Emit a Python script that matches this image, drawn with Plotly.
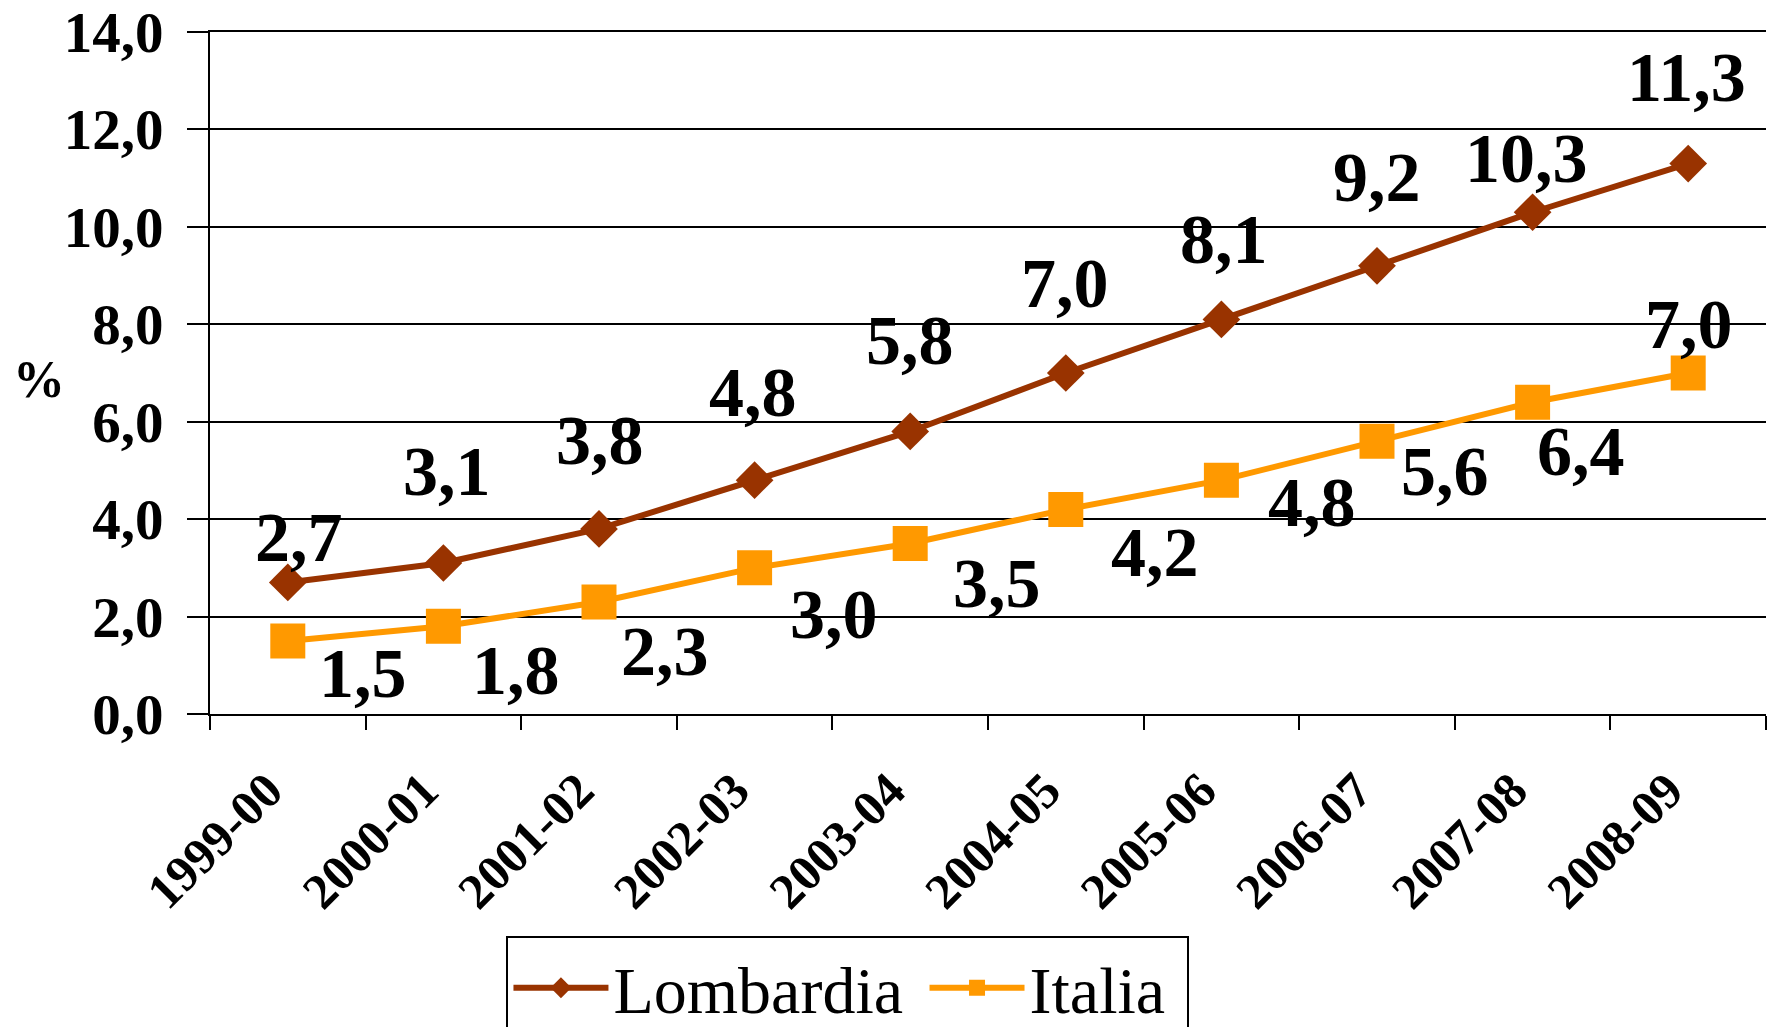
import plotly.graph_objects as go

# data
anni = ["1999-00", "2000-01", "2001-02", "2002-03", "2003-04",
        "2004-05", "2005-06", "2006-07", "2007-08", "2008-09"]
lombardia = [2.7, 3.1, 3.8, 4.8, 5.8, 7.0, 8.1, 9.2, 10.3, 11.3]
italia = [1.5, 1.8, 2.3, 3.0, 3.5, 4.2, 4.8, 5.6, 6.4, 7.0]

# pixel offsets of the value labels (they were hand placed in the original)
lomb_dx = [11, 4, 1, -2, 0, -1, 3, 0, -6, -2]
lomb_dy = [45, 91, 88, 88, 91, 90, 80, 88, 54, 86]
ita_dx = [75, 73, 66, 79, 87, 89, 91, 68, 48, 1]
ita_dy = [-33, -44, -50, -47, -40, -43, -22, -30, -49, 49]

FONT = "Liberation Serif"
ROSSO = "#993300"
ARANCIO = "#FF9900"

fig = go.Figure()
fig.add_trace(go.Scatter(
    x=anni, y=lombardia, name="Lombardia\u00a0", mode="lines+markers",
    line=dict(color=ROSSO, width=6),
    marker=dict(symbol="diamond", size=29, color=ROSSO)
))
fig.add_trace(go.Scatter(
    x=anni, y=italia, name="Italia\u00a0", mode="lines+markers",
    line=dict(color=ARANCIO, width=6),
    marker=dict(symbol="square", size=35, color=ARANCIO)
))

# value labels
annotations = []
for serie, dxs, dys in [(lombardia, lomb_dx, lomb_dy), (italia, ita_dx, ita_dy)]:
    for a, v, dx, dy in zip(anni, serie, dxs, dys):
        annotations.append(dict(
            x=a, y=v, xref="x", yref="y", text="<b>" + f"{v:.1f}".replace(".", ",") + "</b>",
            showarrow=False, xshift=dx, yshift=dy,
            font=dict(family=FONT, size=70, color="black")
        ))

# the "%" axis title, horizontal like the original
annotations.append(dict(
    x=-0.128, y=0.49, xref="paper", yref="paper", text="<b>%</b>",
    showarrow=False, font=dict(family=FONT, size=52, color="black")
))

fig.update_layout(
    width=1767, height=1027,
    margin=dict(l=210, r=1, t=32, b=313, autoexpand=False),
    paper_bgcolor="white", plot_bgcolor="white",
    separators=",.",
    font=dict(family=FONT, color="black"),
    annotations=annotations,
    showlegend=True,
    legend=dict(
        orientation="h", x=0.41, xanchor="center", y=-0.326, yanchor="top",
        font=dict(family=FONT, size=66, color="black"),
        bordercolor="black", borderwidth=2, itemwidth=95,
        bgcolor="white"
    ),
    xaxis=dict(
        type="category", range=[-0.5, 9.5], tickson="boundaries",
        showgrid=False, showline=True, linecolor="black", linewidth=2,
        mirror=True,
        ticks="outside", ticklen=14, tickwidth=2, tickcolor="black",
        tickangle=-45, ticklabelstandoff=25, ticklabelshift=-20,
        automargin=False,
        tickfont=dict(family=FONT, size=50, color="black", weight="bold")
    ),
    yaxis=dict(
        range=[0, 14], dtick=2, tickformat=".1f",
        showgrid=True, gridcolor="black", gridwidth=2,
        showline=True, linecolor="black", linewidth=2,
        zeroline=False, automargin=False, ticklabeloverflow="allow",
        ticks="outside", ticklen=21, tickwidth=2, tickcolor="black",
        ticklabelstandoff=12,
        tickfont=dict(family=FONT, size=57, color="black", weight="bold")
    ),
)

# drop the default 8px body margin so the figure fills the window exactly
fig.write_html(
    "out.html",
    config={"displayModeBar": False},
    post_script="document.body.style.margin='0';document.body.style.overflow='hidden';"
)
